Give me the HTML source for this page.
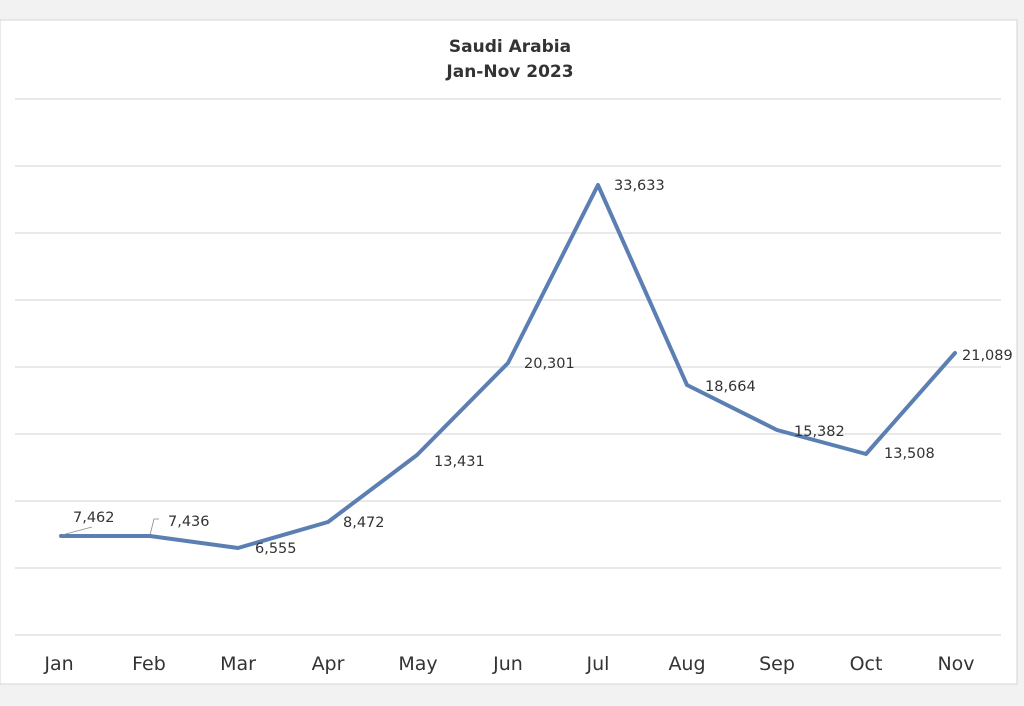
<!DOCTYPE html>
<html><head><meta charset="utf-8"><style>
html,body{margin:0;padding:0;background:#f2f2f2;width:1024px;height:706px;overflow:hidden}
svg{display:block}
text{font-family:"DejaVu Sans","Liberation Sans",sans-serif;fill:#333}
</style></head><body>
<svg width="1024" height="706" viewBox="0 0 1024 706">
<rect x="0" y="0" width="1024" height="706" fill="#f2f2f2"/>
<rect x="0" y="20" width="1017" height="664" fill="#fff" stroke="#d6d6d6" stroke-width="1"/>
<g stroke="#dcdcdc" stroke-width="1.2">
<line x1="15" x2="1001" y1="99" y2="99"/>
<line x1="15" x2="1001" y1="166" y2="166"/>
<line x1="15" x2="1001" y1="233" y2="233"/>
<line x1="15" x2="1001" y1="300" y2="300"/>
<line x1="15" x2="1001" y1="367" y2="367"/>
<line x1="15" x2="1001" y1="434" y2="434"/>
<line x1="15" x2="1001" y1="501" y2="501"/>
<line x1="15" x2="1001" y1="568" y2="568"/>
<line x1="15" x2="1001" y1="635" y2="635"/>
</g>
<text x="510" y="52" text-anchor="middle" font-size="17" font-weight="bold" fill="#444">Saudi Arabia</text>
<text x="510" y="77" text-anchor="middle" font-size="17" font-weight="bold" fill="#444">Jan-Nov 2023</text>
<polyline fill="none" stroke="#5b7fb2" stroke-width="4" stroke-linejoin="round" stroke-linecap="round"
points="61,536 150,536 238,548 328,522 417,455 508,363 598,185 687,385 777,430 866,454 955,353"/>
<g stroke="#888" stroke-width="0.8" fill="none">
<line x1="62" y1="535" x2="92" y2="527"/>
<polyline points="150,535 154,519 159,519"/>
</g>
<g font-size="14.5">
<text x="73" y="522">7,462</text>
<text x="168" y="526">7,436</text>
<text x="255" y="553">6,555</text>
<text x="343" y="527">8,472</text>
<text x="434" y="466">13,431</text>
<text x="524" y="368">20,301</text>
<text x="614" y="190">33,633</text>
<text x="705" y="391">18,664</text>
<text x="794" y="436">15,382</text>
<text x="884" y="458">13,508</text>
<text x="962" y="360">21,089</text>
</g>
<g font-size="19" text-anchor="middle" fill="#404040">
<text x="59" y="670">Jan</text>
<text x="149" y="670">Feb</text>
<text x="238" y="670">Mar</text>
<text x="328" y="670">Apr</text>
<text x="418" y="670">May</text>
<text x="508" y="670">Jun</text>
<text x="598" y="670">Jul</text>
<text x="687" y="670">Aug</text>
<text x="777" y="670">Sep</text>
<text x="866" y="670">Oct</text>
<text x="956" y="670">Nov</text>
</g>
</svg>
</body></html>
